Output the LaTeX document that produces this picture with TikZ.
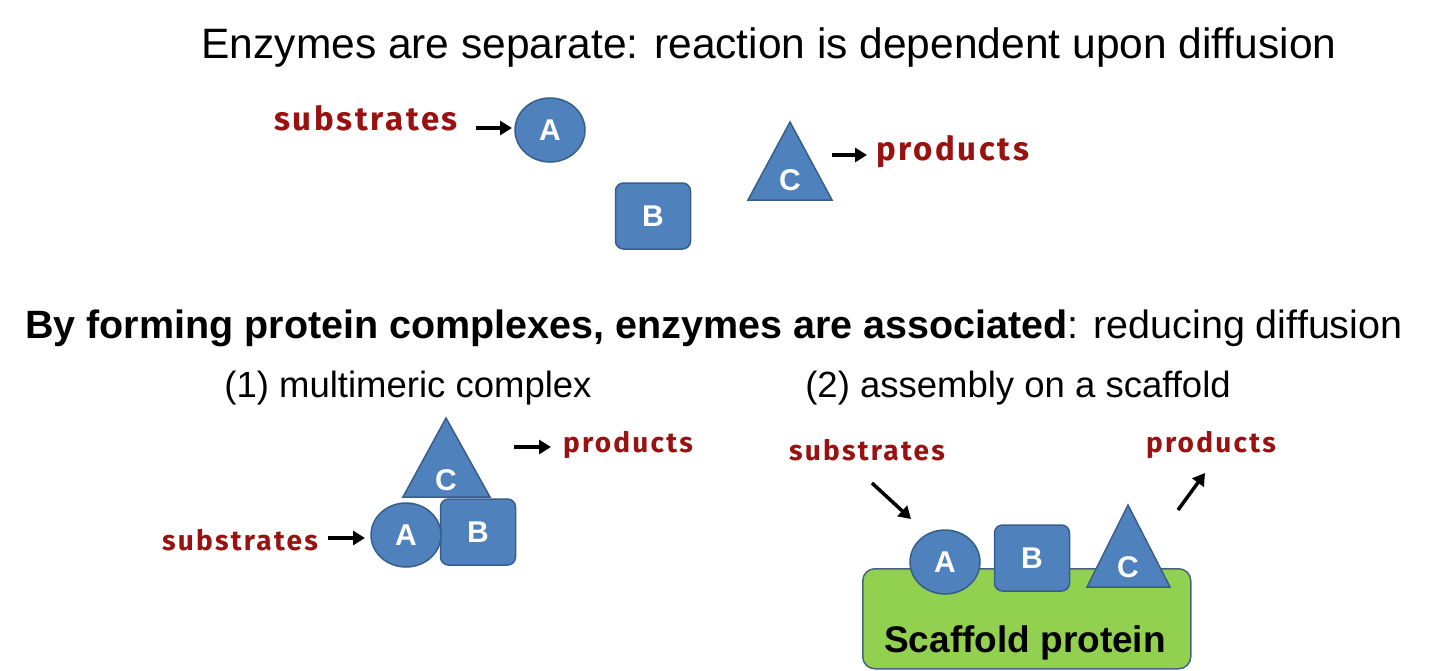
\documentclass[tikz,border=0pt]{standalone}
\usepackage{fontspec}
\setmainfont{Liberation Sans}
\newfontfamily\handfont[LetterSpace=8]{Fira Sans}
\usetikzlibrary{shapes.geometric, arrows.meta, positioning}
\definecolor{enzfill}{RGB}{79,129,189}
\definecolor{enzborder}{RGB}{56,93,138}
\definecolor{chemred}{RGB}{153,17,17}
\definecolor{scaffill}{RGB}{146,208,80}
\definecolor{scafborder}{RGB}{70,100,130}
\tikzset{
    enzround/.style={ellipse, draw=enzborder, fill=enzfill, line width=1.5pt, minimum width=70pt, minimum height=64pt, text=white, font=\fontsize{30}{30}\selectfont\bfseries},
    enzsquare/.style={rectangle, rounded corners=8pt, draw=enzborder, fill=enzfill, line width=1.5pt, minimum width=75pt, minimum height=66pt, text=white, font=\fontsize{30}{30}\selectfont\bfseries},
    enztri/.style={draw=enzborder, fill=enzfill, line width=1.5pt},
    enzlabel/.style={text=white, font=\fontsize{30}{30}\selectfont\bfseries},
    chem/.style={text=chemred, font=\handfont\fontsize{33}{33}\selectfont\bfseries, inner sep=0pt},
    chemsmall/.style={chem, font=\handfont\fontsize{28}{28}\selectfont\bfseries},
    heading/.style={font=\fontsize{42.5}{44}\selectfont, inner sep=0pt},
    subheading/.style={font=\fontsize{36.5}{38}\selectfont, inner sep=0pt},
    arrow/.style={line width=3.5pt, -{Triangle[length=12pt,width=14pt]}, black}
}
\begin{document}
\begin{tikzpicture}[x=1pt, y=-1pt]
    \useasboundingbox (0,0) rectangle (1430,670);
    % Top: separate enzymes
    \node (title1) [heading] at (769,48) {Enzymes are separate: reaction is dependent upon diffusion};
    \node (subs1) [chem, anchor=east] at (458,118) {substrates};
    \node (a1) [enzround] at (550,130) {A};
    \node (b1) [enzsquare] at (653,216) {B};
    \draw [enztri] (790,122) -- (832,200) -- (748,200) -- cycle;
    \node (c1) [enzlabel] at (790,180) {C};
    \node (prod1) [chem, anchor=west] at (876,152) {products};
    \coordinate (s1a) at (476,128);
    \coordinate (s1b) at (512,128);
    \coordinate (p1a) at (832,155);
    \coordinate (p1b) at (867,155);
    \draw [arrow] (s1a) -- (s1b);
    \draw [arrow] (p1a) -- (p1b);

    % Bottom heading
    \node (title2) [heading, font=\fontsize{39.5}{42}\selectfont, anchor=west] at (25,328) {\textbf{By forming protein complexes, enzymes are associated}: reducing diffusion};
    \node (sub1) [subheading] at (408,388) {(1) multimeric complex};
    \node (sub2) [subheading] at (1018,388) {(2) assembly on a scaffold};

    % (1) multimeric complex
    \draw [enztri] (446,418) -- (490,497) -- (403,497) -- cycle;
    \node (c2) [enzlabel] at (446,480) {C};
    \node (b2) [enzsquare] at (478,532) {B};
    \node (a2) [enzround] at (406,535) {A};
    \node (subs2) [chemsmall, anchor=east] at (318,540) {substrates};
    \node (prod2) [chemsmall, anchor=west] at (563,445) {products};
    \coordinate (s2a) at (328,538);
    \coordinate (s2b) at (365,538);
    \coordinate (p2a) at (514,447);
    \coordinate (p2b) at (551,447);
    \draw [arrow] (s2a) -- (s2b);
    \draw [arrow] (p2a) -- (p2b);

    % (2) scaffold
    \node (scaf) [rectangle, rounded corners=12pt, draw=scafborder, fill=scaffill, line width=1.5pt, minimum width=328pt, minimum height=100pt, anchor=north west] at (862,568) {};
    \node (scaflabel) [font=\fontsize{37}{37}\selectfont\bfseries] at (1025,643) {Scaffold protein};
    \node (a3) [enzround] at (945,562) {A};
    \node (b3) [enzsquare] at (1032,558) {B};
    \draw [enztri] (1128,505) -- (1170,587) -- (1087,587) -- cycle;
    \node (c3) [enzlabel] at (1128,567) {C};
    \node (subs3) [chemsmall] at (867,450) {substrates};
    \node (prod3) [chemsmall] at (1211,445) {products};
    \coordinate (s3a) at (872,483);
    \coordinate (s3b) at (911,519);
    \coordinate (p3a) at (1178,510);
    \coordinate (p3b) at (1205,473);
    \draw [arrow] (s3a) -- (s3b);
    \draw [arrow] (p3a) -- (p3b);
\end{tikzpicture}
\end{document}
